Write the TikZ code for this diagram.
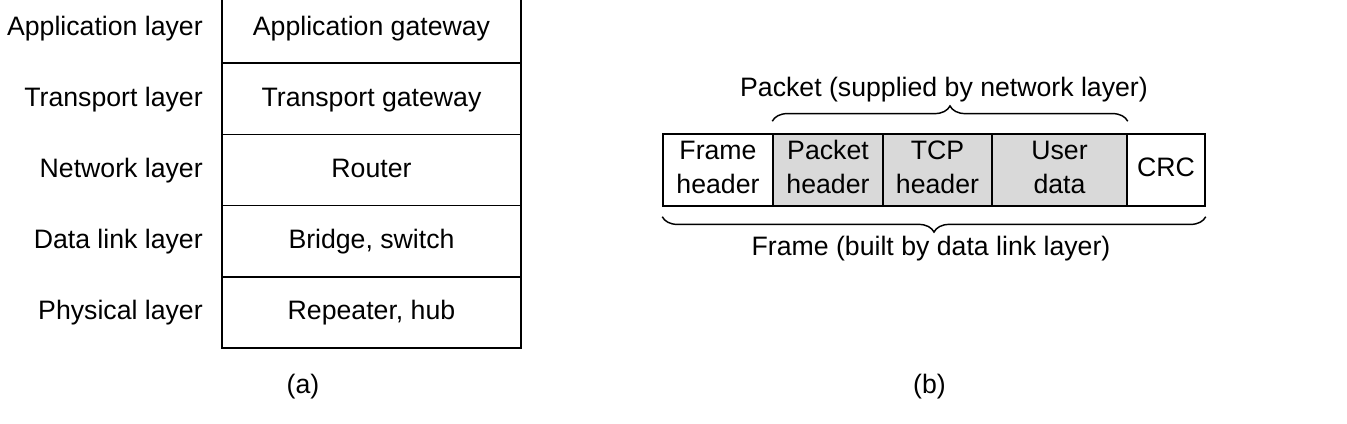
\documentclass[tikz,border=0pt]{standalone}
\usepackage{fontspec}
\setmainfont{Liberation Sans}
\usetikzlibrary{decorations.pathreplacing,calc}
\begin{document}
\begin{tikzpicture}[x=0.75pt,y=-0.75pt,
  every node/.style={font=\fontsize{20pt}{25.5pt}\selectfont},
  layerbox/.style={draw, line width=1.1pt, minimum width=224.25pt, minimum height=53.4pt, inner sep=0pt, text height=18pt, text depth=6.6pt},
  layerlbl/.style={anchor=east, inner sep=0pt, text height=18pt, text depth=6.6pt},
  fieldbox/.style={draw, line width=1.1pt, minimum height=54pt, inner sep=0pt},
  shaded/.style={fill=black!15},
  bracestyle/.style={decorate, decoration={brace, amplitude=11.5pt}, line width=1.1pt},
  caption/.style={inner sep=0pt, anchor=base}]
\useasboundingbox (0,0) rectangle (1347,424);
% (a)
\node[layerbox] (r1) at (371.5,27.6) {Application gateway};
\node[layerbox] (r2) at (371.5,98.8) {Transport gateway};
\node[layerbox] (r3) at (371.5,170) {Router};
\node[layerbox] (r4) at (371.5,241.2) {Bridge, switch};
\node[layerbox] (r5) at (371.5,312.4) {Repeater, hub};
\node[layerlbl] (l1) at (203,27.6) {Application layer};
\node[layerlbl] (l2) at (203,98.8) {Transport layer};
\node[layerlbl] (l3) at (203,170) {Network layer};
\node[layerlbl] (l4) at (203,241.2) {Data link layer};
\node[layerlbl] (l5) at (203,312.4) {Physical layer};
\node[caption] (ca) at (303,393) {(a)};
% (b)
\node[fieldbox, minimum width=82.5pt] (fh) at (718,170) {\begin{tabular}{@{}c@{}}Frame\\header\end{tabular}};
\node[fieldbox, shaded, minimum width=82.5pt] (ph) at (828,170) {\begin{tabular}{@{}c@{}}Packet\\header\end{tabular}};
\node[fieldbox, shaded, minimum width=81.75pt] (th) at (937.5,170) {\begin{tabular}{@{}c@{}}TCP\\header\end{tabular}};
\node[fieldbox, shaded, minimum width=101.25pt] (ud) at (1059.5,170) {\begin{tabular}{@{}c@{}}User\\data\end{tabular}};
\node[fieldbox, minimum width=58.5pt] (crc) at (1166,170) {\begin{tabular}{@{}c@{}}CRC\end{tabular}};
\coordinate (pbl) at ($(ph.north west)+(0,-12)$);
\coordinate (pbr) at ($(ud.north east)+(0,-12)$);
\draw[bracestyle] (pbl) -- (pbr);
\coordinate (fbl) at ($(fh.south west)+(0,10)$);
\coordinate (fbr) at ($(crc.south east)+(0,10)$);
\draw[bracestyle] (fbr) -- (fbl);
\node[caption] (pl) at (944,97) {Packet (supplied by network layer)};
\node[caption] (fl) at (931,256) {Frame (built by data link layer)};
\node[caption] (cb) at (929.5,393) {(b)};
\end{tikzpicture}
\end{document}
